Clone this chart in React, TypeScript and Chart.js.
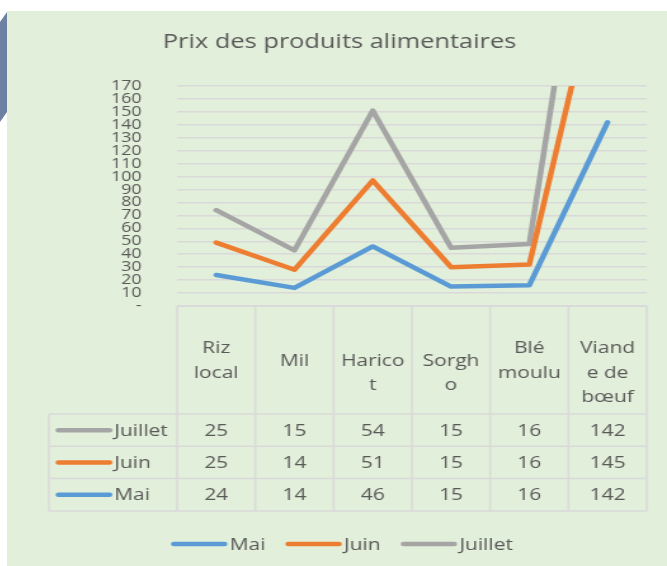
import React, { useEffect, useRef } from "react";
import { Chart, registerables } from "chart.js";

Chart.register(...registerables);

const TITLE = "Prix des produits alimentaires";
const CATEGORY_NAMES = ["Riz local", "Mil", "Haricot", "Sorgho", "Blé moulu", "Viande de bœuf"];
const CATEGORY_LINES = [["Riz", "local"], ["Mil"], ["Harico", "t"], ["Sorgh", "o"], ["Blé", "moulu"], ["Viand", "e de", "bœuf"]];
const SERIES_NAMES = ["Mai", "Juin", "Juillet"];
const SERIES_COLORS = ["#5b9bd5", "#ed7d31", "#a5a5a5"];
const MAI = [24, 14, 46, 15, 16, 142];
const JUIN = [25, 14, 51, 15, 16, 145];
const JUILLET = [25, 15, 54, 15, 16, 142];
const Y_MIN = 0;
const Y_MAX = 170;
const Y_STEP = 10;

const SERIES_VALUES = [MAI, JUIN, JUILLET];

const FONT = '"Open Sans", "Noto Sans", sans-serif';
const TEXT_COLOR = "#595959";
const BORDER_COLOR = "#d9d9d9";

const tablePlugin = {
  id: "tableAndDecor",
  afterDraw(chart: any) {
    const ctx = chart.ctx as CanvasRenderingContext2D;
    const { left, right, bottom } = chart.chartArea;
    const xs = chart.scales.x;
    const n = CATEGORY_NAMES.length;
    const colW = (right - left) / n;

    ctx.save();
    // title
    ctx.fillStyle = TEXT_COLOR;
    ctx.font = `20px ${FONT}`;
    ctx.textAlign = "center";
    ctx.textBaseline = "middle";
    ctx.fillText(TITLE, chart.width / 2 + 2, 31);

    // table geometry
    const headTop = bottom;
    const headBottom = 403;
    const rowH = 32.3;
    const tableBottom = headBottom + rowH * 3;
    const labelLeft = 33;

    ctx.strokeStyle = BORDER_COLOR;
    ctx.lineWidth = 1.5;
    ctx.beginPath();
    ctx.moveTo(left, headTop);
    ctx.lineTo(right, headTop);
    for (let r = 0; r <= 3; r++) {
      const y = headBottom + r * rowH;
      ctx.moveTo(labelLeft, y);
      ctx.lineTo(right, y);
    }
    for (let i = 0; i <= n; i++) {
      const x = left + i * colW;
      ctx.moveTo(x, headTop);
      ctx.lineTo(x, tableBottom);
    }
    ctx.moveTo(labelLeft, headBottom);
    ctx.lineTo(labelLeft, tableBottom);
    ctx.stroke();

    // header text
    ctx.font = `16.5px ${FONT}`;
    ctx.fillStyle = TEXT_COLOR;
    ctx.textAlign = "center";
    const headCenter = 350;
    const lineH = 24.5;
    for (let i = 0; i < n; i++) {
      const cx = xs.getPixelForValue(i);
      const words = CATEGORY_NAMES[i].split(" ").length;
      const startY = words > 1 ? headCenter - lineH / 2 : headCenter;
      CATEGORY_LINES[i].forEach((ln, k) => {
        ctx.fillText(ln, cx, startY + k * lineH);
      });
    }

    // rows: Juillet, Juin, Mai
    const order = [2, 1, 0];
    order.forEach((s, r) => {
      const cy = headBottom + (r + 0.5) * rowH + 1;
      ctx.strokeStyle = SERIES_COLORS[s];
      ctx.lineWidth = 4.5;
      ctx.lineCap = "round";
      ctx.beginPath();
      ctx.moveTo(40.5, cy - 1);
      ctx.lineTo(80.8, cy - 1);
      ctx.stroke();
      ctx.fillStyle = TEXT_COLOR;
      ctx.textAlign = "left";
      ctx.fillText(SERIES_NAMES[s], 84.5, cy);
      ctx.textAlign = "center";
      SERIES_VALUES[s].forEach((v, i) => {
        ctx.fillText(String(v), xs.getPixelForValue(i), cy);
      });
    });

    // legend
    const legY = 533;
    const sw = 44;
    const gap = 2;
    const spacing = 16;
    const widths = SERIES_NAMES.map((nm) => sw + gap + ctx.measureText(nm).width);
    const total = widths.reduce((a, b) => a + b, 0) + spacing * (widths.length - 1);
    let x = chart.width / 2 + 4 - total / 2;
    SERIES_NAMES.forEach((nm, s) => {
      ctx.strokeStyle = SERIES_COLORS[s];
      ctx.lineWidth = 4.5;
      ctx.lineCap = "round";
      ctx.beginPath();
      ctx.moveTo(x + 2, legY);
      ctx.lineTo(x + sw - 2, legY);
      ctx.stroke();
      ctx.fillStyle = TEXT_COLOR;
      ctx.textAlign = "left";
      ctx.fillText(nm, x + sw + gap, legY + 1);
      x += widths[s] + spacing;
    });
    ctx.restore();
  },
};

export default function App() {
  const ref = useRef<HTMLCanvasElement | null>(null);

  useEffect(() => {
    if (!ref.current) return;
    const chart = new Chart(ref.current, {
      type: "line",
      data: {
        labels: CATEGORY_NAMES,
        datasets: SERIES_NAMES.map((nm, s) => ({
          label: nm,
          data: SERIES_VALUES[s],
          borderColor: SERIES_COLORS[s],
          backgroundColor: SERIES_COLORS[s],
          borderWidth: 4.5,
          borderCapStyle: "round",
          borderJoinStyle: "round",
          pointRadius: 0,
          tension: 0,
          fill: false,
        })),
      },
      options: {
        responsive: false,
        animation: false,
        events: [],
        layout: { padding: { left: 0, right: 16, top: 75, bottom: 260 } },
        plugins: {
          legend: { display: false },
          title: { display: false },
          tooltip: { enabled: false },
        },
        scales: {
          x: { display: false, offset: true },
          y: {
            stacked: true,
            min: Y_MIN,
            max: Y_MAX,
            afterFit(scale: any) {
              scale.width = 134;
            },
            ticks: {
              stepSize: Y_STEP,
              autoSkip: false,
              padding: 28,
              color: TEXT_COLOR,
              font: { family: FONT, size: 14, lineHeight: 1 },
              callback: (v: any) => (Number(v) === 0 ? "-" : String(v)),
            },
            grid: { color: BORDER_COLOR, lineWidth: 1.5, drawTicks: false },
            border: { display: false },
          },
        },
      } as any,
      plugins: [tablePlugin],
    });
    return () => chart.destroy();
  }, []);

  return (
    <div style={{ position: "fixed", left: 0, top: 0, width: 667, height: 566, background: "#ffffff", overflow: "hidden" }}>
      <div
        style={{
          position: "absolute",
          left: 0,
          top: 0,
          width: 8,
          height: 130,
          background: "#6d81a3",
          clipPath: "polygon(0px 22px, 7px 12px, 7px 112px, 0px 122px)",
        }}
      />
      <div style={{ position: "absolute", left: 7, top: 11, width: 660, height: 555, background: "#e2efda" }}>
        <canvas ref={ref} width={520} height={555} style={{ width: 660, height: 555, display: "block" }} />
      </div>
    </div>
  );
}
